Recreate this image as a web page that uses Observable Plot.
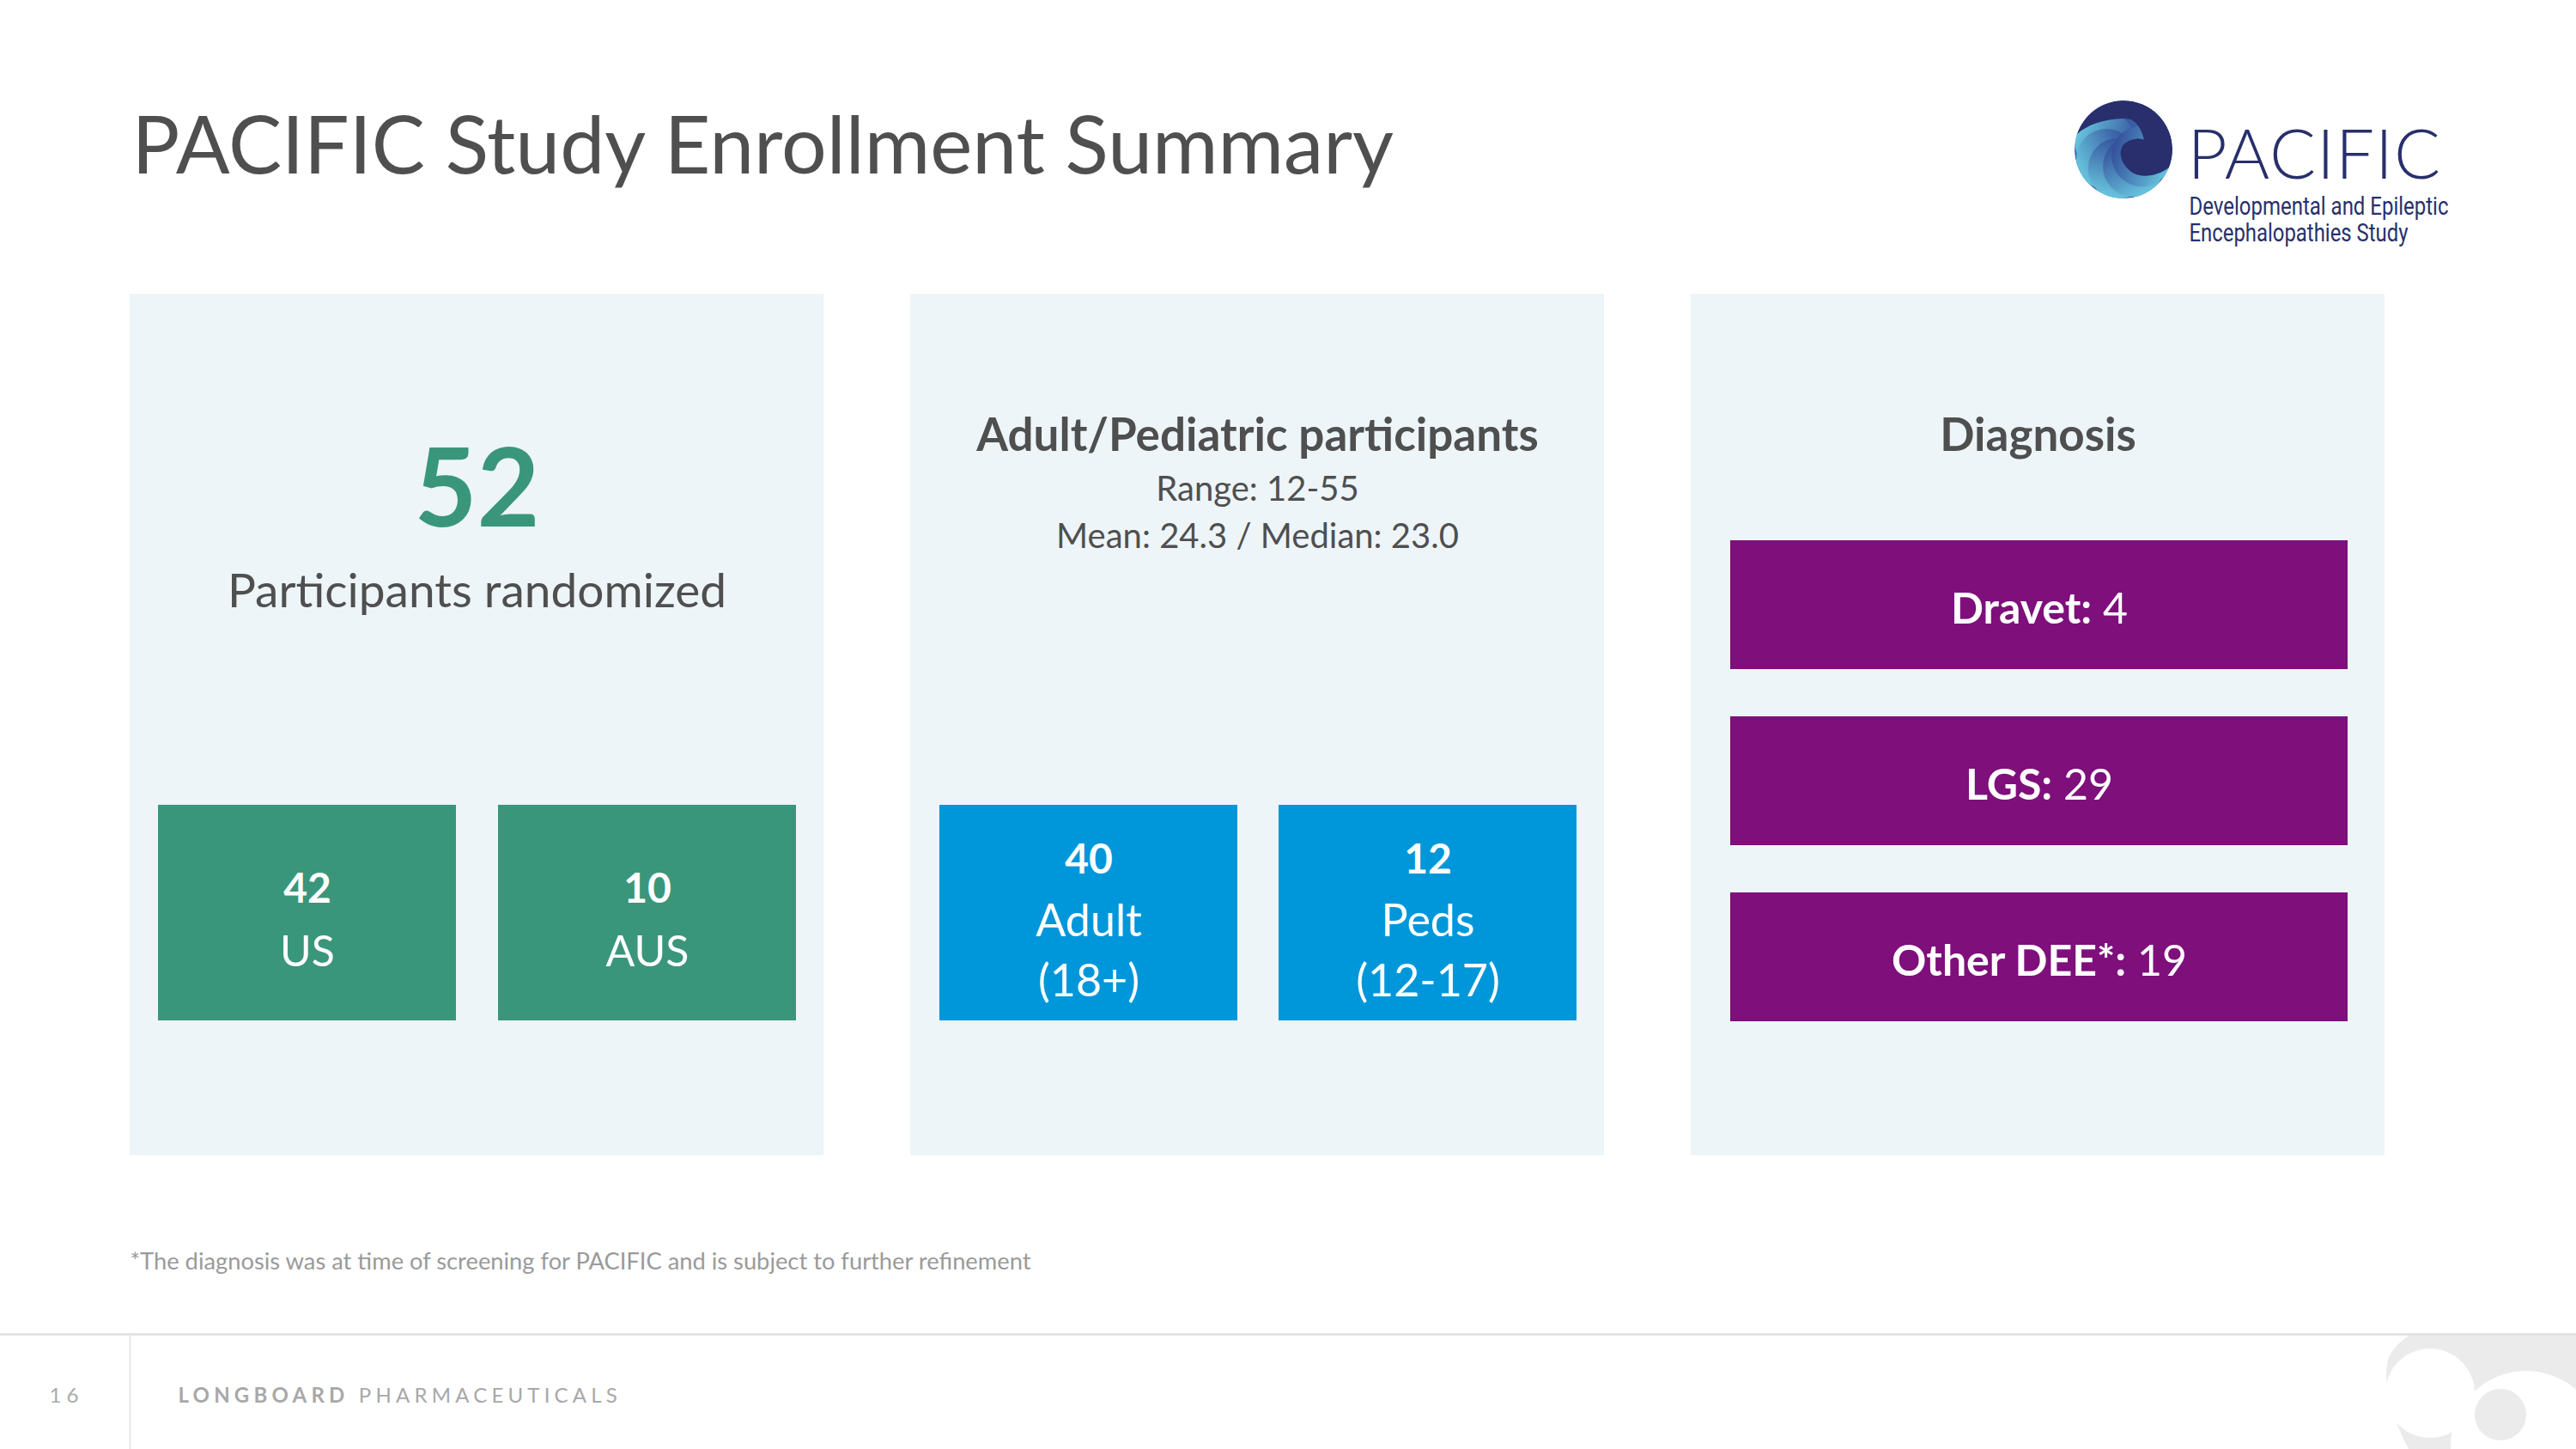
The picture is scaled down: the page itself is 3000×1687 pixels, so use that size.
<!DOCTYPE html>
<html>
<head>
<meta charset="utf-8">
<script src="https://cdn.jsdelivr.net/npm/d3@7"></script>
<script src="https://cdn.jsdelivr.net/npm/@observablehq/plot@0.6"></script>
<style>
  html, body { margin: 0; padding: 0; background: #ffffff; }
  #chart svg { display: block; }
</style>
</head>
<body>
<div id="chart"></div>
<script>
// ---------------- DATA ----------------
const title = "PACIFIC Study Enrollment Summary";
const totalRandomized = 52;
const totalLabel = "Participants randomized";
const regions = ["US", "AUS"];
const regionCounts = [42, 10];
const ageGroupTitle = "Adult/Pediatric participants";
const ageStats = ["Range: 12-55", "Mean: 24.3 / Median: 23.0"];
const ageGroups = ["Adult", "Peds"];
const ageRanges = ["(18+)", "(12-17)"];
const ageCounts = [40, 12];
const diagnosisTitle = "Diagnosis";
const diagnoses = ["Dravet", "LGS", "Other DEE*"];
const diagnosisCounts = [4, 29, 19];
const footnote = "*The diagnosis was at time of screening for PACIFIC and is subject to further refinement";
const pageNumber = "16";
const companyBold = "LONGBOARD";
const companyRest = "PHARMACEUTICALS";
const logoName = "PACIFIC";
const logoSubtitle = ["Developmental and Epileptic", "Encephalopathies Study"];

// ---------------- STYLE / LAYOUT ----------------
const W = 3000, H = 1687;
const FONT = "Lato, 'Open Sans', sans-serif";
const GREEN = "#3a967a", BLUE = "#0097da", PURPLE = "#7e0f7b", PANEL = "#edf5f9";
const TXT = "#4f4f4f", NAVY = "#282f6c";
const panelX = [151, 1060, 1969], panelW = 808, panelTop = 342, panelBottom = 1345;
const pc = i => panelX[i] + panelW / 2;
const boxW = 347, boxTop = 937, boxBottom = 1188;

const panels = panelX.map(x => ({x1: x, x2: x + panelW, y1: panelTop, y2: panelBottom}));
const regionBoxes = regions.map((r, i) => {
  const x1 = panelX[0] + 33 + i * 396;
  return {label: r, value: regionCounts[i], x1, x2: x1 + boxW, y1: boxTop, y2: boxBottom, cx: x1 + boxW / 2};
});
const ageBoxes = ageGroups.map((g, i) => {
  const x1 = panelX[1] + 34 + i * 395;
  return {label: g, range: ageRanges[i], value: ageCounts[i], x1, x2: x1 + boxW, y1: boxTop, y2: boxBottom, cx: x1 + boxW / 2};
});
const diagBoxes = diagnoses.map((d, i) => {
  const y1 = 629 + i * 205;
  return {label: d, value: diagnosisCounts[i], x1: 2015, x2: 2734, y1, y2: y1 + 150, cx: (2015 + 2734) / 2};
});

const one = [0];
const txt = (text, x, y, opts) => Plot.text(one, {x: () => x, y: () => y, text: () => text, lineAnchor: "bottom", fontFamily: FONT, ...opts});

const svg = Plot.plot({
  width: W, height: H, margin: 0,
  x: {domain: [0, W], range: [0, W], axis: null},
  y: {domain: [0, H], range: [0, H], axis: null},
  style: {background: "#ffffff", fontFamily: FONT},
  marks: [
    // panels and boxes
    Plot.rect(panels, {x1: "x1", x2: "x2", y1: "y1", y2: "y2", fill: PANEL}),
    Plot.rect(regionBoxes, {x1: "x1", x2: "x2", y1: "y1", y2: "y2", fill: GREEN}),
    Plot.rect(ageBoxes, {x1: "x1", x2: "x2", y1: "y1", y2: "y2", fill: BLUE}),
    Plot.rect(diagBoxes, {x1: "x1", x2: "x2", y1: "y1", y2: "y2", fill: PURPLE}),

    // title
    txt(title, 153, 201, {textAnchor: "start", fontSize: 93, fill: TXT}),

    // panel 1
    txt(String(totalRandomized), pc(0), 612, {fontSize: 126, fontWeight: 700, fill: GREEN}),
    txt(totalLabel, pc(0), 706, {fontSize: 55, fill: TXT}),
    Plot.text(regionBoxes, {x: "cx", y: d => d.y1 + 113, text: d => String(d.value), lineAnchor: "bottom", fontFamily: FONT, fontSize: 48, fontWeight: 700, fill: "white"}),
    Plot.text(regionBoxes, {x: "cx", y: d => d.y1 + 187, text: "label", lineAnchor: "bottom", fontFamily: FONT, fontSize: 50, fill: "white"}),

    // panel 2
    txt(ageGroupTitle, pc(1), 524, {fontSize: 53, fontWeight: 700, fill: TXT}),
    Plot.text(ageStats, {x: () => pc(1), y: (d, i) => 582 + i * 55, text: d => d, lineAnchor: "bottom", fontFamily: FONT, fontSize: 40, fill: TXT}),
    Plot.text(ageBoxes, {x: "cx", y: d => d.y1 + 79, text: d => String(d.value), lineAnchor: "bottom", fontFamily: FONT, fontSize: 48, fontWeight: 700, fill: "white"}),
    Plot.text(ageBoxes, {x: "cx", y: d => d.y1 + 152, text: "label", lineAnchor: "bottom", fontFamily: FONT, fontSize: 52, fill: "white"}),
    Plot.text(ageBoxes, {x: "cx", y: d => d.y1 + 222, text: "range", lineAnchor: "bottom", fontFamily: FONT, fontSize: 52, fill: "white"}),

    // panel 3
    txt(diagnosisTitle, pc(2), 524, {fontSize: 53, fontWeight: 700, fill: TXT}),
    Plot.text(diagBoxes, {x: "cx", y: d => d.y1 + 96, text: d => `${d.label}: ${d.value}`, lineAnchor: "bottom", fontFamily: FONT, fontSize: 50, fill: "white"}),

    // footnote
    txt(footnote, 151, 1477, {textAnchor: "start", fontSize: 27.3, fill: "#9a9a9a"}),

    // footer
    Plot.ruleY([1553], {x1: 0, x2: W, stroke: "#e3e3e3", strokeWidth: 3}),
    Plot.ruleX([151], {y1: 1555, y2: H, stroke: "#e6e6e6", strokeWidth: 2}),
    txt(pageNumber, 57, 1632, {textAnchor: "start", fontSize: 24, fill: "#aaaaaa"}),
    txt(`${companyBold} ${companyRest}`, 207, 1632, {textAnchor: "start", fontSize: 24, fill: "#a8a8a8"}),

    // logo text
    txt(logoName, 2547, 207, {textAnchor: "start", fontSize: 80, fontWeight: 300, fill: NAVY}),
    Plot.text(logoSubtitle, {x: () => 2549, y: (d, i) => 249 + i * 31, text: d => d, textAnchor: "start", lineAnchor: "bottom", fontFamily: "'Liberation Sans Narrow', Roboto, sans-serif", fontSize: 29, fill: NAVY})
  ]
});

document.getElementById("chart").appendChild(svg);

// ---------- post-processing: mixed weights, spacing, decorations ----------
const s = d3.select(svg);
const textEls = content => s.selectAll("text").filter(function() { return this.textContent === content; });

diagBoxes.forEach(d => {
  textEls(`${d.label}: ${d.value}`).each(function() {
    const t = d3.select(this);
    t.text(null);
    t.append("tspan").attr("font-weight", 700).text(`${d.label}:`);
    t.append("tspan").attr("font-weight", 400).text(` ${d.value}`);
  });
});
textEls(`${companyBold} ${companyRest}`).each(function() {
  const t = d3.select(this);
  t.text(null);
  t.attr("letter-spacing", 5.2);
  t.append("tspan").attr("font-weight", 700).text(companyBold);
  t.append("tspan").attr("font-weight", 400).text(` ${companyRest}`);
});
textEls(pageNumber).attr("letter-spacing", 6);
textEls(logoName).attr("letter-spacing", 1);
const subWidths = [302, 255];
logoSubtitle.forEach((line, i) => {
  textEls(line).attr("textLength", subWidths[i]).attr("lengthAdjust", "spacingAndGlyphs");
});

// logo mark
const defs = s.insert("defs", ":first-child");
const cx = 2473, cy = 174, r = 57;
defs.append("clipPath").attr("id", "logoClip").append("circle").attr("cx", cx).attr("cy", cy).attr("r", r);
const logo = s.append("g").attr("aria-label", "logo-mark").attr("clip-path", "url(#logoClip)");
logo.append("circle").attr("cx", cx).attr("cy", cy).attr("r", r).attr("fill", "#3a5ea6");
const feathers = [200, 150, 105, 60, 20];
feathers.forEach((deg, k) => {
  const a = deg * Math.PI / 180;
  const id = `feather${k}`;
  const g = defs.append("linearGradient").attr("id", id)
    .attr("x1", 0.5 + 0.5 * Math.cos(a)).attr("y1", 0.5 + 0.5 * Math.sin(a))
    .attr("x2", 0.5 - 0.5 * Math.cos(a)).attr("y2", 0.5 - 0.5 * Math.sin(a));
  g.append("stop").attr("offset", "0").attr("stop-color", "#68c6de");
  g.append("stop").attr("offset", "1").attr("stop-color", "#33509c");
  logo.append("circle")
    .attr("cx", cx + 0.4 * r * Math.cos(a)).attr("cy", cy + 0.4 * r * Math.sin(a))
    .attr("r", 0.62 * r).attr("fill", `url(#${id})`);
});
const P = (a, b) => `${cx + a * r},${cy + b * r}`;
logo.append("path").attr("fill", NAVY).attr("d",
  `M${P(-0.95, -0.31)} A${r},${r} 0 1 1 ${P(0.93, 0.37)} ` +
  `C${P(0.7, 0.55)} ${P(0.35, 0.6)} ${P(0.15, 0.45)} ` +
  `C${P(-0.05, 0.3)} ${P(-0.12, 0.05)} ${P(0.0, -0.1)} ` +
  `C${P(0.1, -0.2)} ${P(0.3, -0.25)} ${P(0.42, -0.2)} ` +
  `C${P(0.35, -0.5)} ${P(0.2, -0.65)} ${P(0.0, -0.63)} ` +
  `C${P(-0.4, -0.62)} ${P(-0.75, -0.5)} ${P(-0.95, -0.31)} Z`);

// footer wave decoration
defs.append("clipPath").attr("id", "footClip").append("rect")
  .attr("x", 2700).attr("y", 1555).attr("width", 300).attr("height", 132);
const wave = s.append("g").attr("clip-path", "url(#footClip)");
wave.append("path").attr("fill", "#ebebeb")
  .attr("d", "M2805,1555 L3000,1555 L3000,1687 L2805,1687 Q2770,1620 2782,1580 Q2790,1565 2805,1555 Z");
wave.append("circle").attr("cx", 2830).attr("cy", 1622).attr("r", 52).attr("fill", "#ffffff");
wave.append("circle").attr("cx", 2942).attr("cy", 1684).attr("r", 88).attr("fill", "#ffffff");
wave.append("circle").attr("cx", 2912).attr("cy", 1647).attr("r", 30).attr("fill", "#ebebeb");
wave.append("circle").attr("cx", 2973).attr("cy", 1664).attr("r", 16).attr("fill", "#ffffff");
</script>
</body>
</html>
